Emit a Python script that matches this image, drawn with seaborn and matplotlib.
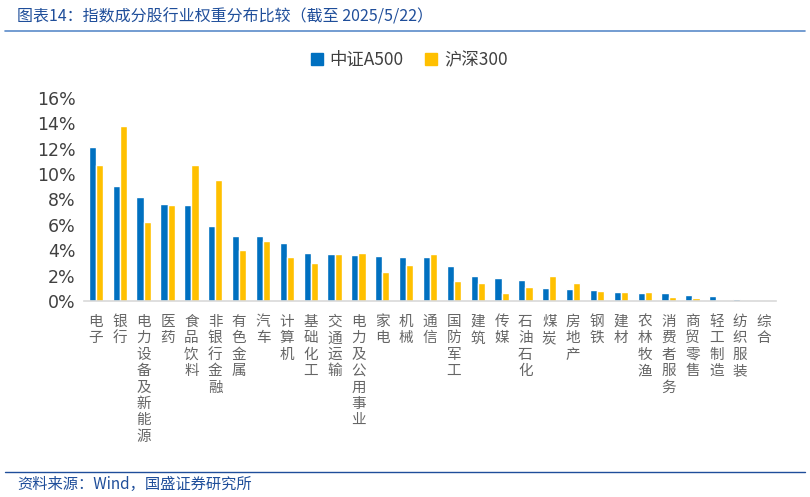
import matplotlib

matplotlib.use("Agg")
import matplotlib.pyplot as plt
import pandas as pd
import seaborn as sns
from matplotlib.lines import Line2D
from matplotlib.patches import Patch

industries = [
    "电子", "银行", "电力设备及新能源", "医药", "食品饮料", "非银行金融", "有色金属",
    "汽车", "计算机", "基础化工", "交通运输", "电力及公用事业", "家电", "机械", "通信",
    "国防军工", "建筑", "传媒", "石油石化", "煤炭", "房地产", "钢铁", "建材", "农林牧渔",
    "消费者服务", "商贸零售", "轻工制造", "纺织服装", "综合",
]
a500 = [12.1, 9.07, 8.2, 7.64, 7.53, 5.93, 5.13, 5.1, 4.6, 3.81, 3.72, 3.62, 3.56, 3.43,
        3.43, 2.75, 1.95, 1.85, 1.64, 1.03, 0.95, 0.84, 0.71, 0.66, 0.61, 0.48, 0.40,
        0.16, 0.08]
hs300 = [10.7, 13.76, 6.2, 7.53, 10.7, 9.54, 4.02, 4.76, 3.47, 3.0, 3.69, 3.77, 2.27,
         2.85, 3.72, 1.61, 1.40, 0.61, 1.11, 1.93, 1.45, 0.77, 0.71, 0.71, 0.34, 0.24,
         0.08, 0.05, 0.0]
series_names = ["中证A500", "沪深300"]
colors = ["#0070C0", "#FFC000"]

df = pd.DataFrame({
    "industry": industries * 2,
    "weight": a500 + hs300,
    "index": [series_names[0]] * len(industries) + [series_names[1]] * len(industries),
})

sns.set_style("white")
plt.rcParams["font.family"] = ["Noto Sans CJK SC", "DejaVu Sans"]

fig = plt.figure(figsize=(8.1, 4.97), dpi=100)
ax = fig.add_axes([0.1037, 0.3944, 0.8543, 0.4084])

sns.barplot(data=df, x="industry", y="weight", hue="index", palette=colors,
            width=0.6, gap=0, saturation=1, ax=ax, legend=False)

ax.set_xlim(-0.5, len(industries) - 0.5)
ax.set_ylim(0, 16)
ax.set_yticks(range(0, 17, 2))
ax.set_yticklabels([f"{v}%" for v in range(0, 17, 2)], fontsize=12.5, color="#404040",
                   family=["DejaVu Sans"])
ax.set_xticks(range(len(industries)))
ax.set_xticklabels(["\n".join(s) for s in industries], fontsize=10.5, color="#666666",
                   va="top", linespacing=1.22)
ax.set_xlabel("")
ax.set_ylabel("")
ax.tick_params(axis="both", length=0)
ax.tick_params(axis="x", pad=10)
ax.tick_params(axis="y", pad=6)
for side in ["top", "right", "left"]:
    ax.spines[side].set_visible(False)
ax.spines["bottom"].set_color("#D9D9D9")
ax.spines["bottom"].set_linewidth(1.2)

handles = [Patch(color=c, label=n) for c, n in zip(colors, series_names)]
fig.legend(handles=handles, loc="center", bbox_to_anchor=(0.505, 0.879), ncol=2,
           frameon=False, fontsize=12.5, handlelength=0.7, handleheight=0.7,
           columnspacing=1.2, handletextpad=0.4, labelcolor="#404040")

fig.text(0.021, 0.966, "图表14：指数成分股行业权重分布比较（截至 2025/5/22）",
         fontsize=11.5, color="#1F4E9A", style="italic", va="center")
fig.add_artist(Line2D([0.006, 0.994], [0.938, 0.938], color="#5B8BC9", lw=1.2))
fig.add_artist(Line2D([0.006, 0.994], [0.050, 0.050], color="#1F4E9A", lw=1.0))
fig.text(0.021, 0.025, "资料来源：Wind，国盛证券研究所", fontsize=11, color="#1F4E9A",
         style="italic", va="center")

fig.savefig("out.png", dpi=100)
